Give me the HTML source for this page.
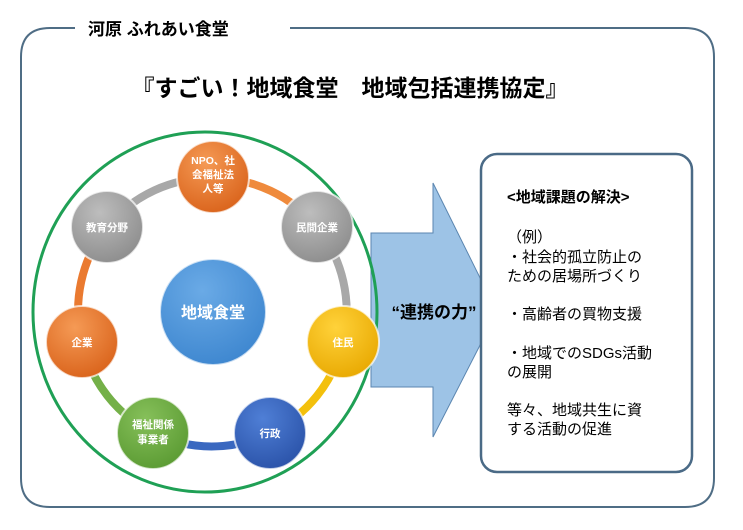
<!DOCTYPE html>
<html><head><meta charset="utf-8"><style>
html,body{margin:0;padding:0;background:#fff;}
body{width:743px;height:530px;overflow:hidden;position:relative;font-family:"Liberation Sans","Noto Sans CJK JP",sans-serif;}
</style></head><body>
<svg width="743" height="530" viewBox="0 0 743 530" xmlns="http://www.w3.org/2000/svg" style="position:absolute;left:0;top:0">
<defs>
<radialGradient id="gO" cx="40%" cy="30%" r="75%"><stop offset="0" stop-color="#f59a55"/><stop offset="1" stop-color="#d9621a"/></radialGradient>
<radialGradient id="gG" cx="40%" cy="30%" r="75%"><stop offset="0" stop-color="#bdbdbd"/><stop offset="1" stop-color="#8c8c8c"/></radialGradient>
<radialGradient id="gY" cx="40%" cy="30%" r="75%"><stop offset="0" stop-color="#ffd23a"/><stop offset="1" stop-color="#e8a800"/></radialGradient>
<radialGradient id="gB" cx="40%" cy="30%" r="75%"><stop offset="0" stop-color="#4f7fd6"/><stop offset="1" stop-color="#2a52a8"/></radialGradient>
<radialGradient id="gGr" cx="40%" cy="30%" r="75%"><stop offset="0" stop-color="#86c05a"/><stop offset="1" stop-color="#5a9a32"/></radialGradient>
<radialGradient id="gC" cx="40%" cy="30%" r="75%"><stop offset="0" stop-color="#6aaae6"/><stop offset="1" stop-color="#3d86cf"/></radialGradient>
</defs>
<path d="M75 28 H50 Q21 28 21 57 V478 Q21 507 50 507 H685 Q714 507 714 478 V57 Q714 28 685 28 H290" fill="none" stroke="#4f6d85" stroke-width="2"/>
<text x="88" y="35" font-size="17" font-weight="bold" fill="#000">河原 ふれあい食堂</text>
<text x="350" y="96" font-size="23" font-weight="bold" text-anchor="middle" fill="#000">『すごい！地域食堂　地域包括連携協定』</text>
<polygon points="371,233 433,233 433,183 497,312 433,437 433,387 371,387" fill="#9dc3e6" stroke="#5b86b0" stroke-width="1"/>
<text x="434" y="318" font-size="17" font-weight="bold" text-anchor="middle" fill="#000">“連携の力”</text>
<ellipse cx="205" cy="312" rx="172" ry="180" fill="none" stroke="#1fa055" stroke-width="3"/>
<g fill="none" stroke-width="8" stroke-linecap="round">
<path d="M213 178 A134 134 0 0 1 317 227" stroke="#ef8a3c"/>
<path d="M317 227 A134 134 0 0 1 343 342" stroke="#a8a8a8"/>
<path d="M343 342 A134 134 0 0 1 270 433" stroke="#f3c00c"/>
<path d="M270 433 A134 134 0 0 1 153 433" stroke="#3a68c0"/>
<path d="M153 433 A134 134 0 0 1 82 342" stroke="#74b048"/>
<path d="M82 342 A134 134 0 0 1 107 227" stroke="#ea7a30"/>
<path d="M107 227 A134 134 0 0 1 213 178" stroke="#a8a8a8"/>
</g>
<g stroke="#fff" stroke-width="2" stroke-opacity="0.7">
<circle cx="213" cy="177" r="36" fill="url(#gO)"/>
<circle cx="317" cy="227" r="36" fill="url(#gG)"/>
<circle cx="343" cy="342" r="36" fill="url(#gY)"/>
<circle cx="270" cy="433" r="36" fill="url(#gB)"/>
<circle cx="153" cy="433" r="36" fill="url(#gGr)"/>
<circle cx="82" cy="342" r="36" fill="url(#gO)"/>
<circle cx="107" cy="227" r="36" fill="url(#gG)"/>
<circle cx="213" cy="312" r="53" fill="url(#gC)"/>
</g>
<g fill="#fff" font-weight="bold" font-size="10.5" text-anchor="middle">
<text x="213" y="164">NPO、社</text>
<text x="213" y="178">会福祉法</text>
<text x="213" y="192">人等</text>
<text x="317" y="231">民間企業</text>
<text x="343" y="346">住民</text>
<text x="270" y="437">行政</text>
<text x="153" y="428">福祉関係</text>
<text x="153" y="443">事業者</text>
<text x="82" y="346">企業</text>
<text x="107" y="231">教育分野</text>
<text x="213" y="318" font-size="16">地域食堂</text>
</g>
<rect x="481" y="154" width="211" height="318" rx="16" fill="#fff" stroke="#4a6a86" stroke-width="2.5"/>
<g font-size="15" fill="#000">
<text x="507" y="202" font-weight="bold">&lt;地域課題の解決&gt;</text>
<text x="507" y="242">（例）</text>
<text x="507" y="262">・社会的孤立防止の</text>
<text x="507" y="281">ための居場所づくり</text>
<text x="507" y="319">・高齢者の買物支援</text>
<text x="507" y="358">・地域でのSDGs活動</text>
<text x="507" y="377">の展開</text>
<text x="507" y="415">等々、地域共生に資</text>
<text x="507" y="434">する活動の促進</text>
</g>
</svg>
</body></html>
